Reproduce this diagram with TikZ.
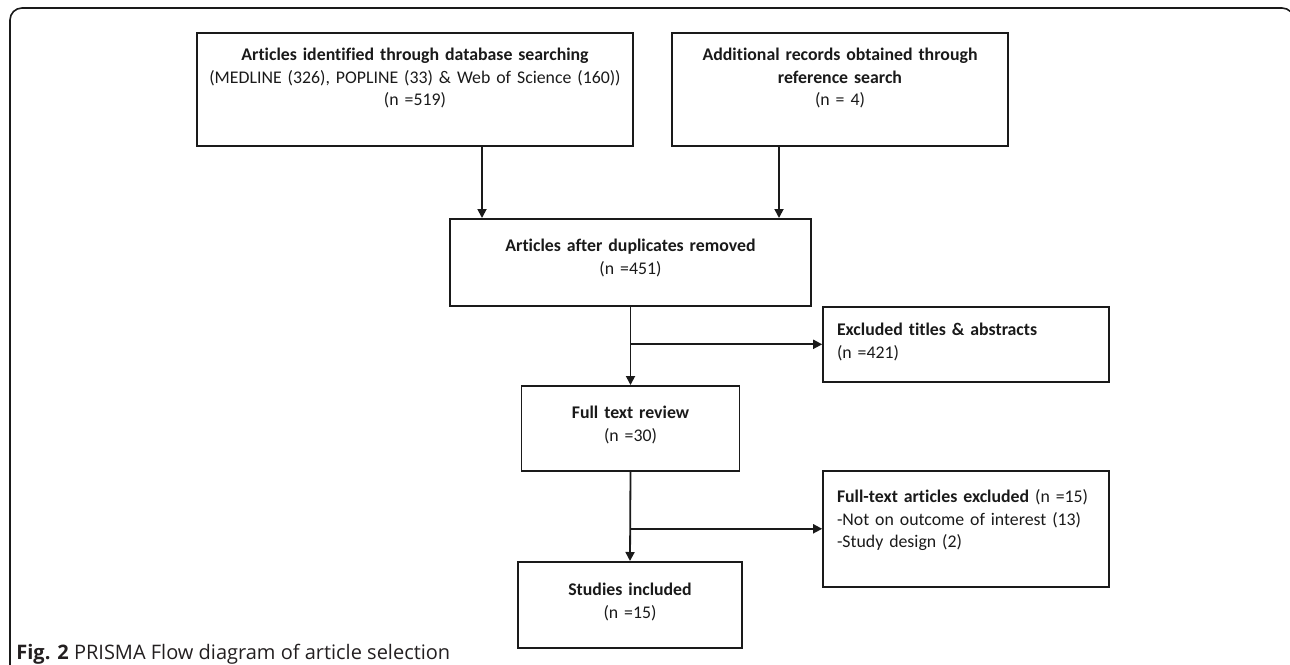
\documentclass[tikz,border=0pt]{standalone}
\usepackage{fontspec}
\setmainfont{Carlito}[Ligatures=NoCommon]
\newfontfamily\capfont{Open Sans}
\usetikzlibrary{arrows.meta}
\definecolor{inkline}{HTML}{1A1A1A}
\definecolor{capgray}{HTML}{231F20}
\tikzset{
  stage/.style={draw=inkline, line width=0.8pt, anchor=north, inner xsep=0pt, inner ysep=0pt,
    align=center, text=inkline, font=\fontsize{8.9}{11.25}\selectfont},
  sidestage/.style={stage, align=left, inner xsep=7pt},
  flow/.style={draw=inkline, line width=0.9pt, -{Triangle[length=4.5pt,width=4.5pt]}}
}
\begin{document}
\begin{tikzpicture}[x=0.5pt,y=-0.5pt]
	\useasboundingbox (0,0) rectangle (1290,664);
	\clip (0,0) rectangle (1290,664);
	\draw[inkline, line width=0.8pt, rounded corners=6pt] (10,700) -- (10,8) -- (1294,8) -- (1294,700);
	\node[stage, text width=218pt, text height=14pt, text depth=42.5pt] (dbase) at (415,32)
		{\textbf{Articles identified through database searching}\\(MEDLINE (326), POPLINE (33) \& Web of Science (160))\\(n =519)};
	\node[stage, text width=168pt, text height=14pt, text depth=42.5pt] (refsearch) at (840,32)
		{\textbf{Additional records obtained through}\\\textbf{reference search}\\(n = 4)};
	\node[stage, text width=180.5pt, text height=16.5pt, text depth=27pt] (dedup) at (630.5,218)
		{\textbf{Articles after duplicates removed}\\(n =451)};
	\node[sidestage, text width=129pt, text height=14.5pt, text depth=23pt] (excltitles) at (966,306)
		{\textbf{Excluded titles \& abstracts}\\(n =421)};
	\node[stage, text width=109pt, text height=16.5pt, text depth=26pt] (fulltext) at (630.5,385)
		{\textbf{Full text review}\\(n =30)};
	\node[sidestage, text width=129pt, text height=16pt, text depth=42pt] (exclfull) at (966,470)
		{\textbf{Full-text articles excluded} (n~=15)\\-Not on outcome of interest (13)\\-Study design (2)};
	\node[stage, text width=112pt, text height=17pt, text depth=26pt] (included) at (630,561)
		{\textbf{Studies included}\\(n =15)};
	\coordinate (colL) at (482,0);
	\coordinate (colR) at (779,0);
	\draw[flow] (dbase.south -| colL) -- (colL |- dedup.north);
	\draw[flow] (refsearch.south -| colR) -- (colR |- dedup.north);
	\draw[flow] (dedup.south) -- (fulltext.north);
	\draw[flow] (dedup.south |- excltitles.west) -- (excltitles.west);
	\draw[flow] (fulltext.south) -- (included.north);
	\draw[flow] (fulltext.south |- exclfull.west) -- (exclfull.west);
	\node[anchor=base west, inner sep=0pt, text=capgray, font=\capfont\fontsize{10}{12}\selectfont] (caption) at (16,659)
		{\textbf{Fig. 2} PRISMA Flow diagram of article selection};
\end{tikzpicture}
\end{document}
